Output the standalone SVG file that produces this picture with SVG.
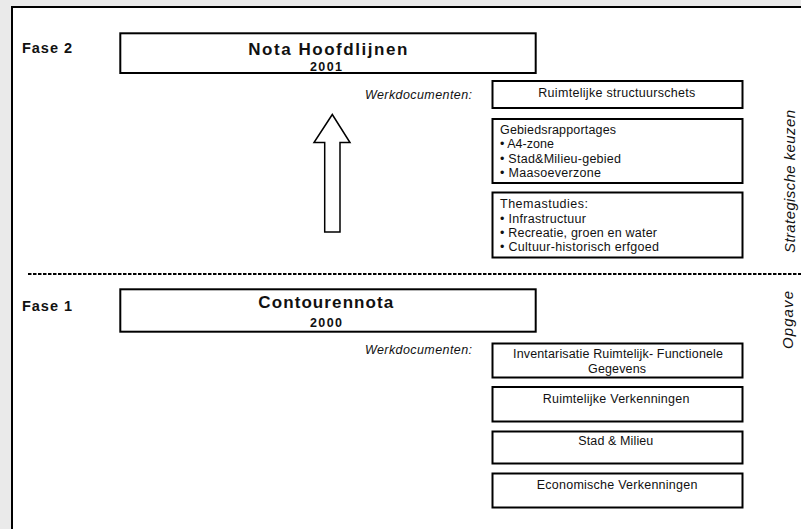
<svg xmlns="http://www.w3.org/2000/svg" width="801" height="529" viewBox="0 0 801 529">
<defs>
<style>
.box{fill:#fff;stroke:#000;stroke-width:2}
.t{font-family:"Liberation Sans",Arial,sans-serif;fill:#111;font-size:12.5px}
.b{font-weight:bold}
.i{font-style:italic}
.big{font-size:17px}
.rot{font-size:15px}
.lbl{font-family:"Liberation Sans",Arial,sans-serif;fill:#111;font-size:14.5px;font-weight:bold}
</style>
</defs>
<rect x="0" y="0" width="801" height="529" fill="#eaeaea"/>
<rect x="12" y="7" width="800" height="530" fill="#fff" stroke="#000" stroke-width="2"/>

<g id="separator">
<line x1="28" y1="274" x2="801" y2="274" stroke="#000" stroke-width="2" stroke-dasharray="3.5 1.5"/>
</g>

<g id="labels">
<text class="lbl" x="22" y="53" textLength="50" lengthAdjust="spacing">Fase 2</text>
<text class="lbl" x="22" y="310.5" textLength="50" lengthAdjust="spacing">Fase 1</text>
<text class="t i" x="365" y="99" textLength="107" lengthAdjust="spacing">Werkdocumenten:</text>
<text class="t i" x="365" y="354" textLength="107" lengthAdjust="spacing">Werkdocumenten:</text>
<text class="t i rot" transform="translate(795,181.5) rotate(-90)" text-anchor="middle" textLength="143" lengthAdjust="spacing">Strategische keuzen</text>
<text class="t i rot" transform="translate(793,320) rotate(-90)" text-anchor="middle" textLength="58" lengthAdjust="spacing">Opgave</text>
</g>

<g id="nota-hoofdlijnen">
<rect class="box" x="120.3" y="33.3" width="415.4" height="39.7"/>
<text class="t b big" x="248.3" y="55" textLength="159" lengthAdjust="spacing">Nota Hoofdlijnen</text>
<text class="t b" x="310" y="70.5" textLength="32" lengthAdjust="spacing">2001</text>
</g>

<g id="ruimtelijke-structuurschets">
<rect class="box" x="492.5" y="81" width="250" height="27"/>
<text class="t" x="538.3" y="97" textLength="157" lengthAdjust="spacing">Ruimtelijke structuurschets</text>
</g>

<g id="gebiedsrapportages">
<rect class="box" x="492.5" y="119" width="250" height="64"/>
<text class="t" x="500" y="133.5" textLength="116" lengthAdjust="spacing">Gebiedsrapportages</text>
<text class="t" x="500" y="148" textLength="54" lengthAdjust="spacing">• A4-zone</text>
<text class="t" x="500" y="162.5" textLength="121" lengthAdjust="spacing">• Stad&amp;Milieu-gebied</text>
<text class="t" x="500" y="177" textLength="101" lengthAdjust="spacing">• Maasoeverzone</text>
</g>

<g id="themastudies">
<rect class="box" x="492.5" y="192.5" width="250" height="65"/>
<text class="t" x="500" y="208" textLength="88" lengthAdjust="spacing">Themastudies:</text>
<text class="t" x="500" y="222.5" textLength="86" lengthAdjust="spacing">• Infrastructuur</text>
<text class="t" x="500" y="236.5" textLength="157" lengthAdjust="spacing">• Recreatie, groen en water</text>
<text class="t" x="500" y="250.5" textLength="159" lengthAdjust="spacing">• Cultuur-historisch erfgoed</text>
</g>

<g id="contourennota">
<rect class="box" x="120.3" y="289.3" width="415.4" height="42.4"/>
<text class="t b big" x="258.3" y="308.3" textLength="135" lengthAdjust="spacing">Contourennota</text>
<text class="t b" x="310" y="327.3" textLength="32" lengthAdjust="spacing">2000</text>
</g>

<g id="inventarisatie">
<rect class="box" x="492.5" y="343.5" width="250" height="34"/>
<text class="t" x="513" y="358" textLength="210" lengthAdjust="spacing">Inventarisatie Ruimtelijk- Functionele</text>
<text class="t" x="588" y="372.5" textLength="58" lengthAdjust="spacing">Gegevens</text>
</g>

<g id="ruimtelijke-verkenningen">
<rect class="box" x="492.5" y="387" width="250" height="34.5"/>
<text class="t" x="542.7" y="402.7" textLength="146.7" lengthAdjust="spacing">Ruimtelijke Verkenningen</text>
</g>

<g id="stad-milieu">
<rect class="box" x="492.5" y="431.5" width="250" height="32"/>
<text class="t" x="578.3" y="445" textLength="75" lengthAdjust="spacing">Stad &amp; Milieu</text>
</g>

<g id="economische-verkenningen">
<rect class="box" x="492.5" y="473.5" width="250" height="34"/>
<text class="t" x="536.7" y="489" textLength="160.7" lengthAdjust="spacing">Economische Verkenningen</text>
</g>

<g id="connectors">
<polygon points="332.3,114.5 350,142.5 340,142.5 340,232 324.7,232 324.7,142.5 314,142.5" fill="#fff" stroke="#000" stroke-width="1.5" stroke-linejoin="miter"/>
</g>
</svg>
